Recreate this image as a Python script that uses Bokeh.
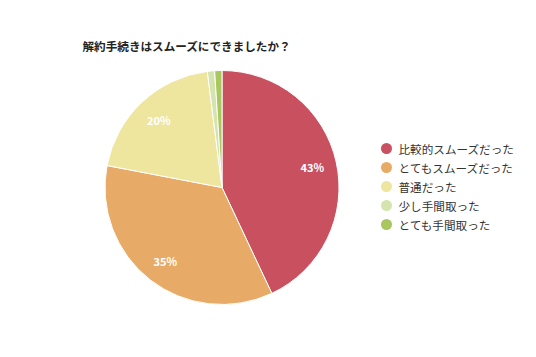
import math
from bokeh.plotting import figure
from bokeh.models import Range1d, ColumnDataSource
from bokeh.core.properties import value
from bokeh.embed import file_html
from bokeh.resources import INLINE

title = "解約手続きはスムーズにできましたか？"
categories = ["比較的スムーズだった", "とてもスムーズだった", "普通だった", "少し手間取った", "とても手間取った"]
values = [43, 35, 20, 1, 1]
colors = ["#C9505F", "#E8AB67", "#EEE69E", "#D5E4AF", "#A9C65F"]

W, H = 520, 341
FONT = "Noto Sans CJK JP"

p = figure(width=W, height=H, output_backend="svg", toolbar_location=None,
           x_range=Range1d(0, W), y_range=Range1d(0, H), min_border=0)
p.axis.visible = False
p.grid.visible = False
p.outline_line_color = None

def sy(y):  # screen y to data y
    return H - y
def sx(x):
    return x

cx, cy, r = sx(221.5), sy(187), 117
total = sum(values)
starts, ends, lx, ly, labels = [], [], [], [], []
acc = 0
for v in values:
    a0 = math.pi / 2 - 2 * math.pi * acc / total
    a1 = math.pi / 2 - 2 * math.pi * (acc + v) / total
    starts.append(a0)
    ends.append(a1)
    mid = (a0 + a1) / 2
    if v >= 5:
        lx.append(cx + 0.79 * r * math.cos(mid))
        ly.append(cy + 0.79 * r * math.sin(mid))
        labels.append(f"{v}%")
    acc += v

src = ColumnDataSource(dict(start=starts, end=ends, color=colors))
p.wedge(x=cx, y=cy, radius=r, start_angle="start", end_angle="end", direction="clock",
        fill_color="color", line_color="white", line_width=1, source=src)

p.text(x=lx, y=ly, text=labels, text_color="white", text_font=value(FONT),
       text_font_size="11px", text_font_style="bold", text_align="center", text_baseline="middle")

p.text(x=[sx(82)], y=[sy(45)], text=[title], text_color="#222222", text_font=value(FONT),
       text_font_size="11.6px", text_font_style="bold", text_align="left", text_baseline="middle")

leg_y = [sy(148 + 19 * i) for i in range(len(categories))]
p.scatter(x=[sx(386)] * len(categories), y=leg_y, size=11, marker="circle",
          fill_color=colors, line_color=None)
p.text(x=[sx(398)] * len(categories), y=leg_y, text=categories, text_color="#333333",
       text_font=value(FONT), text_font_size="11.6px", text_align="left", text_baseline="middle")

open("out.html", "w").write(file_html(p, INLINE))
